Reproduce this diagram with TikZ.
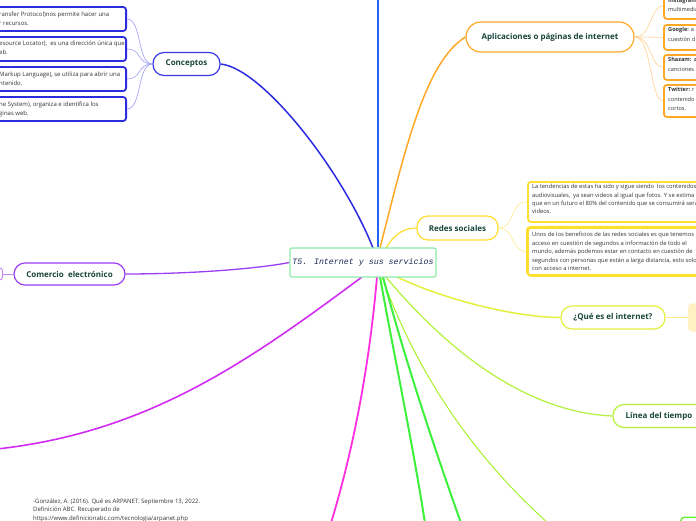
\documentclass[tikz,border=0pt]{standalone}
\usepackage{fontspec}
\setmainfont{Open Sans}
\newfontfamily\monoit{Liberation Mono}[ItalicFont={Liberation Mono Italic}]
\definecolor{titlec}{HTML}{17453A}
\definecolor{txt}{HTML}{333333}
\definecolor{centtxt}{HTML}{1B2B55}
\definecolor{centbd}{HTML}{8EE8A8}
\definecolor{blueB}{HTML}{2B2BDF}
\definecolor{blueN}{HTML}{3B3BE6}
\definecolor{blueL}{HTML}{9A9AF5}
\definecolor{vblue}{HTML}{2563FF}
\definecolor{orangeC}{HTML}{FFA826}
\definecolor{orangeL}{HTML}{FFD08A}
\definecolor{yellowC}{HTML}{FFDE2E}
\definecolor{yellowL}{HTML}{FFE98A}
\definecolor{queC}{HTML}{E3F03C}
\definecolor{queF}{HTML}{FFF1C2}
\definecolor{lineaC}{HTML}{B4F03A}
\definecolor{limeC}{HTML}{A6F02A}
\definecolor{greenC}{HTML}{3CF03C}
\definecolor{magC}{HTML}{FF2EE0}
\definecolor{pmagC}{HTML}{D22CF2}
\definecolor{purpC}{HTML}{9B3DF5}
\pgfdeclarelayer{bg}
\pgfsetlayers{bg,main}
\begin{document}
\begin{tikzpicture}[x=1pt,y=-1pt,
  pill/.style={draw, fill=white, font=\fontsize{8}{9}\selectfont\bfseries, text=titlec,
    rounded corners=11pt, line width=1.2pt, inner sep=0pt, minimum height=23pt},
  leafbox/.style={draw, fill=white, rounded corners=3pt, line width=1.8pt, inner sep=0pt},
  small/.style={font=\fontsize{6}{9}\selectfont, text=txt, align=left, inner sep=0pt, anchor=north west},
  thinlink/.style={line width=0.6pt}
]
\useasboundingbox (0,0) rectangle (696,520);

\coordinate (topend) at (378,-2);
\coordinate (pmagend) at (-3,449);
\coordinate (magend) at (331,523);
\coordinate (g1end) at (425,523);
\coordinate (g2end) at (461,523);
\coordinate (limeend) at (548,523);

% ---------- main nodes ----------
\node[draw=centbd, fill=white, rounded corners=2pt, line width=1.2pt,
      minimum width=146pt, minimum height=29pt, inner sep=0pt,
      font=\monoit\itshape\fontsize{8.3}{9}\selectfont, text=centtxt] (cent) at (363,262.5)
      {T5. Internet y sus servicios};
\node[pill, draw=blueN, minimum width=67pt] (con) at (186.5,64) {Conceptos};
\node[pill, draw=orangeC, minimum width=168pt, minimum height=30pt, rounded corners=15pt] (apl) at (550,37) {Aplicaciones o páginas de internet};
\node[pill, draw=yellowC, minimum width=81pt, minimum height=24pt] (red) at (457.5,228) {Redes sociales};
\node[pill, draw=queC, minimum width=104pt, minimum height=23pt] (que) at (613,317.5) {¿Qué es el internet?};
\node[pill, draw=lineaC, minimum width=92pt, minimum height=23pt] (lin) at (659,416) {Línea del tiempo};
\node[pill, draw=purpC, minimum width=111pt, minimum height=22pt] (com) at (69.5,274) {Comercio\ \ electrónico};

% ---------- main connectors ----------
\begin{pgfonlayer}{bg}
\draw[vblue, line width=2pt] (cent.north -| topend) -- (topend);
\draw[blueB, line width=1.5pt] (con.east) .. controls (262,68) and (342,170) .. (373,248);
\draw[orangeC, line width=1.5pt] (380,248) .. controls (405,150) and (425,62) .. (apl.west);
\draw[yellowC, line width=1.2pt] (386,248) .. controls (395,233) and (405,228) .. (red.west);
\draw[queC, line width=1.5pt] (397,277) .. controls (450,302) and (520,317.5) .. (que.west);
\draw[lineaC, line width=1.2pt] (386,277) .. controls (440,342) and (520,412) .. (lin.west);
\draw[limeC, line width=1pt] (382,277) .. controls (420,382) and (480,462) .. (limeend);
\draw[greenC, line width=2pt] (380,277) .. controls (395,360) and (412,440) .. (g1end);
\draw[greenC, line width=2pt] (383,277) .. controls (405,360) and (435,450) .. (g2end);
\draw[magC, line width=1.8pt] (377,277) .. controls (368,380) and (350,460) .. (magend);
\draw[pmagC, line width=1.6pt] (362,277) .. controls (250,360) and (150,432) .. (pmagend);
\draw[purpC, line width=1.3pt] (cent.west) .. controls (250,270) and (180,274) .. (com.east);
\end{pgfonlayer}

% ---------- Conceptos children ----------
\foreach \n/\y in {c1/19, c2/49, c3/79, c4/109}{
  \node[leafbox, draw=blueB, minimum width=150pt, minimum height=24pt, anchor=east] (\n) at (127,\y) {};
  \draw[blueL, thinlink] (con.west) .. controls (137,64) and (142,\y) .. (\n.east);
}
\node[small] (c1t) at (-1,11.3) {ransfer Protocol)nos permite hacer una\\r recursos.};
\node[small] (c2t) at (-1,40.3) {esource Locator),\ \ es una dirección única que\\eb.};
\node[small] (c3t) at (-1,71.3) {Markup Language), se utiliza para abrir una\\ntenido.};
\node[small] (c4t) at (-1,101.3) {ne System), organiza e identifica los\\ginas web.};

% ---------- Aplicaciones children ----------
\node[leafbox, draw=orangeC, minimum width=60pt, minimum height=26pt, anchor=north west] (a1) at (663,-8) {};
\node[leafbox, draw=orangeC, minimum width=60pt, minimum height=25pt, anchor=north west] (a2) at (663,24) {};
\node[leafbox, draw=orangeC, minimum width=60pt, minimum height=25pt, anchor=north west] (a3) at (663,54) {};
\node[leafbox, draw=orangeC, minimum width=60pt, minimum height=32pt, anchor=north west] (a4) at (663,84) {};
\foreach \n in {a1,a2,a3,a4}{
  \draw[orangeL, thinlink] (apl.east) .. controls (652,37) and (650,0 |- \n.west) .. (\n.west);
}
\node[small, font=\fontsize{5.6}{9}\selectfont] (a1t) at (668,-1.8) {\textbf{Instagram:}\\multimedia};
\node[small, font=\fontsize{5.6}{10}\selectfont] (a2t) at (668,27.4) {\textbf{Google:} a\\cuestión d};
\node[small, font=\fontsize{5.6}{10}\selectfont] (a3t) at (668,57.4) {\textbf{Shazam:} a\\canciones};
\node[small, font=\fontsize{5.6}{9.5}\selectfont] (a4t) at (668,87.4) {\textbf{Twitter:} r\\contenido\\cortos.};

% ---------- Redes sociales children ----------
\node[leafbox, draw=yellowC, minimum width=180pt, minimum height=40pt, anchor=north west] (r1) at (527,181) {};
\node[leafbox, draw=yellowC, minimum width=180pt, minimum height=48pt, anchor=north west] (r2) at (527,227) {};
\draw[yellowL, thinlink] (red.east) .. controls (515,228) and (510,201) .. (r1.west);
\draw[yellowL, thinlink] (red.east) .. controls (515,228) and (510,251) .. (r2.west);
\begin{scope}
\clip (527,181) rectangle (700,275);
\node[small, font=\fontsize{5.8}{8.3}\selectfont] (r1t) at (532,184.3) {La tendencias de estas ha sido y sigue siendo\ \ los contenidos\\audiovisuales,\ \ ya sean videos al igual que fotos. Y se estima\\que en un futuro el 80\% del contenido que se consumirá serán\\videos.};
\node[small, font=\fontsize{5.8}{8.5}\selectfont] (r2t) at (532,232.3) {Unos de los beneficios de las redes sociales es que tenemos\\acceso en cuestión de segundos a información de todo el\\mundo, además podemos estar en contacto en cuestión de\\segundos con personas que están a larga distancia, esto solo\\con acceso a internet.};
\end{scope}
\draw[yellowC, line width=1.8pt, rounded corners=3pt] (700,227) -- (527,227) -- (527,275) -- (700,275);

% ---------- ¿Qué es? child ----------
\node[draw=queF, fill=queF, rounded corners=4pt, minimum width=30pt, minimum height=28pt, anchor=west, inner sep=0pt] (q1) at (688,317.5) {};
\draw[yellowL, thinlink] (que.east) -- (q1.west);

% ---------- Comercio child ----------
\node[draw=purpC!60, fill=white, rounded corners=3pt, line width=1pt, minimum width=20pt, minimum height=12pt, anchor=east, inner sep=0pt] (cm1) at (3,274) {};
\draw[purpC!60, thinlink] (com.west) -- (cm1.east);

% ---------- bottom-right partial node ----------
\node[draw=greenC!70!lime, fill=white, rounded corners=4pt, line width=1.3pt, minimum width=40pt, minimum height=20pt, anchor=north west, inner sep=0pt] (br) at (680,516.5) {};

% ---------- bibliography ----------
\node[small, font=\fontsize{6}{8.5}\selectfont] (bib) at (33,498.3) {-González, A. (2016). Qué es ARPANET. Septiembre 13, 2022.\\Definición ABC. Recuperado de\\https://www.definicionabc.com/tecnologia/arpanet.php};
\end{tikzpicture}
\end{document}
